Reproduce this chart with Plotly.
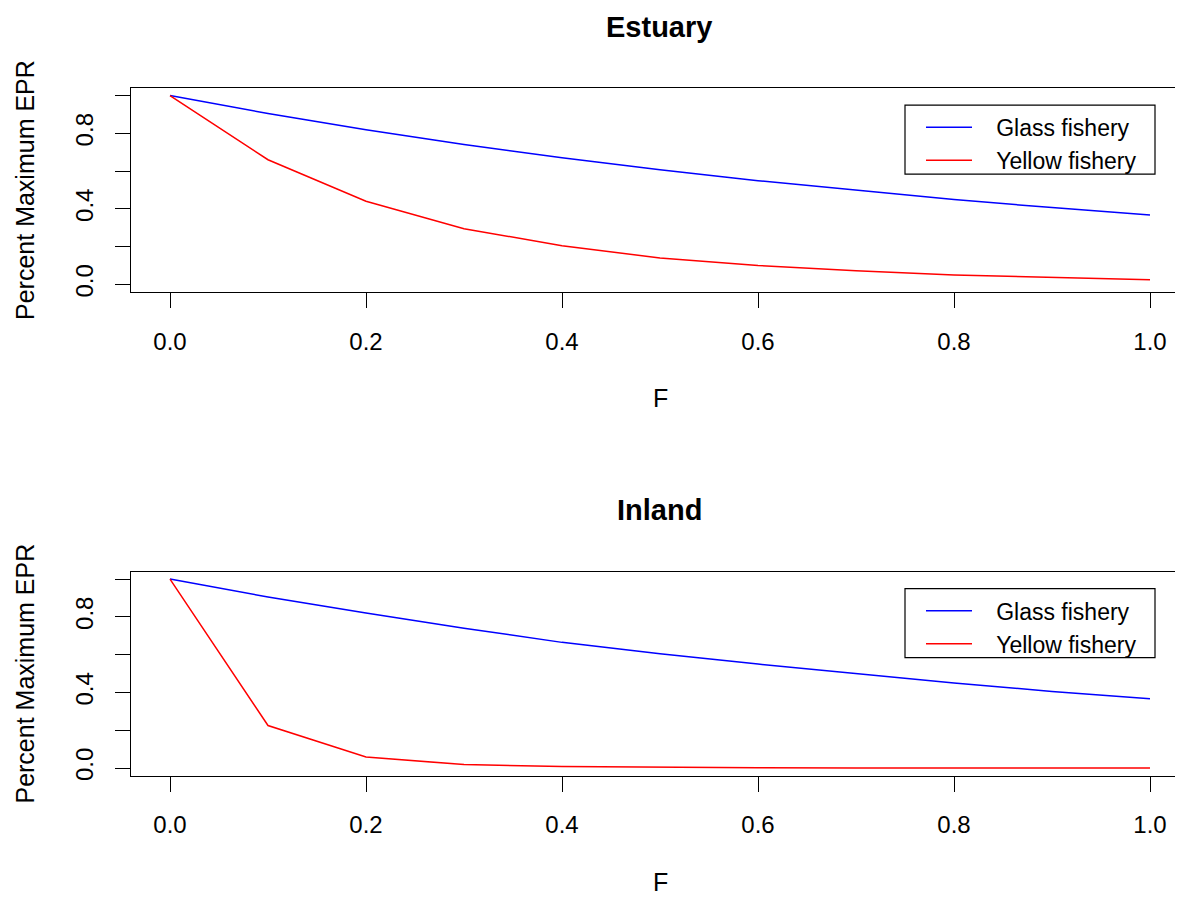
import plotly.graph_objects as go

# ---- data ----
F = [0.0, 0.1, 0.2, 0.3, 0.4, 0.5, 0.6, 0.7, 0.8, 0.9, 1.0]
estuary_glass = [1.0, 0.905, 0.819, 0.741, 0.670, 0.607, 0.549, 0.497, 0.449, 0.407, 0.368]
estuary_yellow = [1.0, 0.66, 0.44, 0.295, 0.205, 0.14, 0.10, 0.072, 0.05, 0.038, 0.025]
inland_glass = [1.0, 0.905, 0.82, 0.74, 0.665, 0.605, 0.55, 0.50, 0.45, 0.405, 0.366]
inland_yellow = [1.0, 0.225, 0.058, 0.018, 0.008, 0.003, 0.001, 0.0005, 0.0002, 0.0001, 0.0]

series_names = ["Glass fishery", "Yellow fishery"]
series_colors = ["#0000FF", "#FF0000"]
panel_titles = ["Estuary", "Inland"]
x_ticks = [0.0, 0.2, 0.4, 0.6, 0.8, 1.0]
y_ticks = [0.0, 0.2, 0.4, 0.6, 0.8, 1.0]
y_ticktext = ["0.0", "", "0.4", "", "0.8", ""]
x_title = "F"
y_title = "Percent Maximum EPR"

# page body has an 8px margin: the figure is placed at (8, 8)
OFF = 8
W, H = 1183 - OFF, 899 - OFF
FONT = "Liberation Sans, Arial, sans-serif"
FS = 24


def xp(px):
    return (px - OFF) / W


def yp(py):
    return 1 - (py - OFF) / H


# plot areas in page pixels (left, right, top, bottom)
left_px, right_px = 130.8, 1183.0
panels_px = [(88.4, 293.6), (574.7, 779.9)]
x_range = [-0.04, -0.04 + 1.08 * (right_px - left_px) / (1189.2 - left_px)]

fig = go.Figure()

panel_data = [(estuary_glass, estuary_yellow), (inland_glass, inland_yellow)]
for i, (g, y) in enumerate(panel_data):
    xa = "x" if i == 0 else "x2"
    ya = "y" if i == 0 else "y2"
    lg = "legend" if i == 0 else "legend2"
    for name, vals, col in zip(series_names, (g, y), series_colors):
        fig.add_trace(go.Scatter(x=F, y=vals, mode="lines",
                                 name="\u00a0\u00a0\u00a0" + name,
                                 line=dict(color=col, width=1.5),
                                 xaxis=xa, yaxis=ya, legend=lg,
                                 hoverinfo="skip"))

axis_common = dict(showgrid=False, zeroline=False, showline=True, linecolor="black",
                   linewidth=1.2, ticks="outside", ticklen=15, tickcolor="black",
                   tickwidth=1.2, tickfont=dict(family=FONT, size=FS, color="black"))

layout = dict(width=W, height=H, margin=dict(l=0, r=0, t=0, b=0),
              paper_bgcolor="white", plot_bgcolor="white",
              font=dict(family=FONT, size=FS, color="black"))

shapes = []
for i, (top, bot) in enumerate(panels_px):
    sfx = "" if i == 0 else "2"
    layout["xaxis" + sfx] = dict(axis_common, domain=[xp(left_px), 1.0], range=x_range,
                                 tickvals=x_ticks, tickformat=".1f", mirror=True,
                                 anchor="y" + sfx, ticklabelstandoff=13)
    layout["yaxis" + sfx] = dict(axis_common, domain=[yp(bot), yp(top)], range=[-0.04, 1.04],
                                 tickvals=y_ticks, ticktext=y_ticktext, tickangle=-90,
                                 anchor="x" + sfx, ticklabelstandoff=12)
    leg = dict(x=xp(921), y=yp(top + 18), xanchor="left", yanchor="top",
               borderwidth=0, bgcolor="rgba(0,0,0,0)",
               font=dict(family=FONT, size=23, color="black"), itemwidth=46,
               tracegroupgap=0)
    layout["legend" if i == 0 else "legend2"] = leg
    # legend frame
    shapes.append(dict(type="rect", xref="paper", yref="paper",
                       x0=xp(905), x1=xp(1155), y0=yp(top + 17.3), y1=yp(top + 86.6),
                       line=dict(color="black", width=1.2), fillcolor="rgba(0,0,0,0)",
                       layer="below"))

layout["shapes"] = shapes
fig.update_layout(**layout)

anns = []
for i, (top, bot) in enumerate(panels_px):
    anns.append(dict(text="<b>%s</b>" % panel_titles[i], xref="paper", yref="paper",
                     x=xp(659), y=yp(top - 61.5), xanchor="center", yanchor="middle",
                     showarrow=False, font=dict(family=FONT, size=29, color="black")))
    anns.append(dict(text=x_title, xref="paper", yref="paper",
                     x=xp(660), y=yp(bot + 107), xanchor="center", yanchor="middle",
                     showarrow=False, font=dict(family=FONT, size=FS + 1, color="black")))
    anns.append(dict(text=y_title, xref="paper", yref="paper", textangle=-90,
                     x=xp(25), y=yp((top + bot) / 2), xanchor="center", yanchor="middle",
                     showarrow=False, font=dict(family=FONT, size=FS + 1, color="black")))
fig.update_layout(annotations=anns)

fig.write_html("out.html")
